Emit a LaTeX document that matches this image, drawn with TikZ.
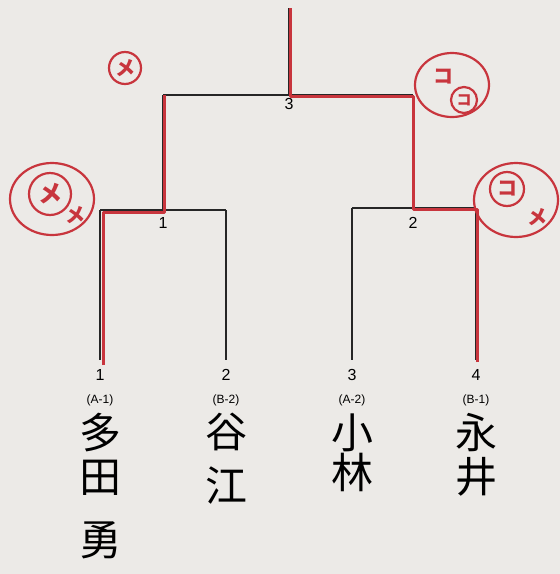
\documentclass[tikz,border=0pt]{standalone}
\usepackage{fontspec}
\setsansfont{Liberation Sans}
\newfontfamily\cjk{Noto Sans CJK JP}
\begin{document}
\begin{tikzpicture}[x=1pt,y=-1pt,
        linea/.style={line width=1.4pt,black!85},
        gana/.style={line width=3pt,rojo,line join=round},
        marca/.style={rojo,line width=2.2pt},
        num/.style={font=\sffamily\fontsize{16}{16}\selectfont,inner sep=1pt},
        grupo/.style={font=\sffamily\fontsize{12}{12}\selectfont,inner sep=1pt},
        nombre/.style={font=\cjk\fontsize{42}{44}\selectfont,align=center,anchor=north,inner sep=0pt},
        letra/.style={text=rojo,font=\cjk\bfseries\fontsize{20}{20}\selectfont,inner sep=0pt}]
        %colores
        \definecolor{papel}{HTML}{ECEAE7}
        \definecolor{rojo}{HTML}{C8353D}

        % hoja
        \fill[papel] (0,0) rectangle (560,574);
        \useasboundingbox (0,0) rectangle (560,574);

        % puntos del cuadro
        \coordinate (top) at (289,8);
        \coordinate (f) at (289,95);
        \coordinate (fl) at (163,95);
        \coordinate (fr) at (413,95);
        \coordinate (s1) at (163,210);
        \coordinate (s2) at (413,208);
        \foreach \x/\n/\y in {100/1/210,226/2/210,352/3/208,476/4/208}{
            \coordinate (b\n) at (\x,\y);
            \coordinate (e\n) at (\x,360);
        }

        % cuadro en negro
        \draw[linea] (top) -- (f);
        \draw[linea] (fl) -- (fr);
        \draw[linea] (fl) -- (s1);
        \draw[linea] (fr) -- (s2);
        \draw[linea] (b1) -- (b2);
        \draw[linea] (b3) -- (b4);
        \foreach \n in {1,...,4}
            \draw[linea] (b\n) -- (e\n);

        % ganadores en rojo
        \draw[gana] ([shift={(3,5)}]e1) -- ([shift={(3,2)}]b1) -- ([shift={(1,2)}]s1) -- ([shift={(1,0)}]fl);
        \draw[gana] ([shift={(1.5,2)}]e4) -- ([shift={(1.5,1)}]b4) -- ([shift={(0,1)}]s2)
            -- ([shift={(0,1)}]fr) -- ([shift={(1,1)}]f) -- ([shift={(1,0)}]top);

        % numeros de combate
        \node[num,below=2pt] (c3) at (f) {3};
        \node[num,below=6pt] (c1) at (s1) {1};
        \node[num,below=8pt] (c2) at (s2) {2};

        % jugadores
        \foreach \n/\grp/\nom in {1/A-1/{多\\田\\[19pt]勇},2/B-2/{谷\\[10pt]江},3/A-2/{小\\[-4pt]林},4/B-1/{永\\井}}{
            \node[num,below=8pt] (p\n) at (e\n) {\n};
            \node[grupo,below=12pt] (g\n) at (p\n.south) {(\grp)};
            \node[nombre,below=6pt] (n\n) at (g\n.south) {\nom};
        }

        % marcas
        \node[letra,circle,draw=rojo,line width=2.2pt,minimum size=32pt] (m1) at (125,68) {メ};
        \draw[marca] (52,199) ellipse [x radius=42, y radius=36];
        \node[letra,circle,draw=rojo,line width=2.2pt,minimum size=42pt,font=\cjk\bfseries\fontsize{24}{24}\selectfont] (m2) at (50,194) {メ};
        \node[letra] (m3) at (75,215) {メ};
        \draw[marca] (452,85) ellipse [x radius=37, y radius=32];
        \node[letra] (m4) at (443,77) {コ};
        \node[letra,circle,draw=rojo,line width=2.2pt,minimum size=26pt,font=\cjk\bfseries\fontsize{15}{15}\selectfont] (m5) at (464,100) {コ};
        \draw[marca] (516,200) ellipse [x radius=42, y radius=37];
        \node[letra,circle,draw=rojo,line width=2.2pt,minimum size=34pt] (m6) at (507,189) {コ};
        \node[letra] (m7) at (537,217) {メ};
\end{tikzpicture}
\end{document}
